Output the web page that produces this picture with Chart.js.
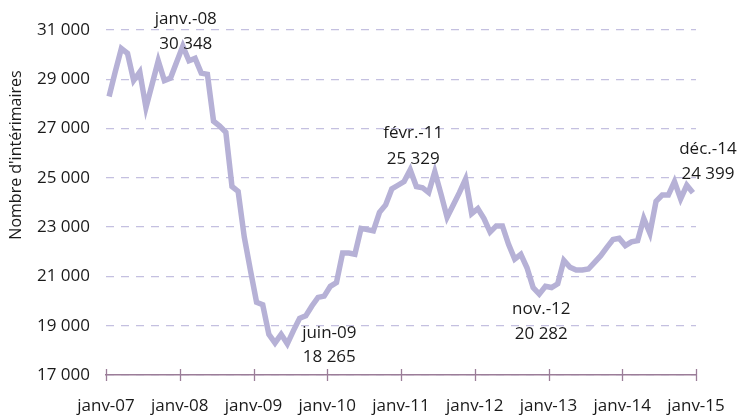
<!DOCTYPE html>
<html>
<head>
<meta charset="utf-8">
<script src="https://cdn.jsdelivr.net/npm/chart.js@4/dist/chart.umd.min.js"></script>
<style>
  body { margin: 0; background: #fff; }
  canvas { display: block; }
</style>
</head>
<body>
<canvas id="myChart" width="738" height="416"></canvas>
<script>
// tick labels on the x axis (one per year, first month)
var yearLabels = ['janv-07', 'janv-08', 'janv-09', 'janv-10', 'janv-11', 'janv-12', 'janv-13', 'janv-14', 'janv-15'];

// monthly values, janv-07 .. déc-14
var interimaires = [
  28300, 29300, 30250, 30050, 28950, 29300, 27850, 28800, 29750, 28950, 29050, 29700,
  30348, 29750, 29850, 29250, 29200, 27300, 27100, 26850, 24650, 24450, 22600, 21250,
  19950, 19850, 18650, 18300, 18650, 18265, 18800, 19300, 19400, 19800, 20150, 20200,
  20600, 20750, 21950, 21950, 21900, 22950, 22900, 22850, 23600, 23900, 24550, 24700,
  24850, 25329, 24650, 24600, 24400, 25250, 24350, 23400, 23900, 24400, 24950, 23550,
  23750, 23350, 22800, 23050, 23050, 22300, 21700, 21900, 21350, 20550, 20282, 20600,
  20550, 20700, 21650, 21370, 21260, 21260, 21300, 21570, 21840, 22180, 22500, 22550,
  22250, 22400, 22450, 23350, 22750, 24050, 24300, 24300, 24850, 24150, 24700, 24399
];

var yTicks = [17000, 19000, 21000, 23000, 25000, 27000, 29000, 31000];

// highlighted points: month index and label
var noteIndex = [12, 29, 49, 70, 95];
var noteMonth = ['janv.-08', 'juin-09', 'févr.-11', 'nov.-12', 'déc.-14'];

function fmt(v) {
  return String(v).replace(/\B(?=(\d{3})+(?!\d))/g, ' ');
}

var points = interimaires.map(function (v, i) { return { x: i + 0.5, y: v }; });

var FONT = '"Open Sans", "Noto Sans", sans-serif';
var TXT = '#1a1a1a';

var extras = {
  id: 'extras',
  beforeDatasetsDraw: function (chart) {
    var c = chart.ctx, xs = chart.scales.x, ys = chart.scales.y;
    var y0 = ys.getPixelForValue(17000);
    c.save();
    c.strokeStyle = '#9b7d98';
    c.lineWidth = 1.3;
    for (var k = 0; k < yearLabels.length; k++) {
      var px = Math.round(xs.getPixelForValue(k * 12)) + 0.5;
      c.beginPath();
      c.moveTo(px, y0 - 6);
      c.lineTo(px, y0 + 6);
      c.stroke();
    }
    c.restore();
  },
  afterDraw: function (chart) {
    var c = chart.ctx, xs = chart.scales.x, ys = chart.scales.y;
    c.save();
    c.fillStyle = TXT;
    c.font = '17px ' + FONT;
    c.textAlign = 'center';
    c.textBaseline = 'middle';
    // offsets of the two label lines from their point
    var offs = {
      12: [3, -27, -2],
      29: [42, -11, 13],
      49: [3, -37, -11],
      70: [2, 15, 40],
      95: [15, -44, -19]
    };
    for (var n = 0; n < noteIndex.length; n++) {
      var i = noteIndex[n];
      var px = xs.getPixelForValue(i + 0.5);
      var py = ys.getPixelForValue(interimaires[i]);
      var o = offs[i];
      c.fillText(noteMonth[n], px + o[0], py + o[1]);
      c.fillText(fmt(interimaires[i]), px + o[0], py + o[2]);
    }
    // y axis title
    c.font = '16px ' + FONT;
    c.translate(16, 155);
    c.rotate(-Math.PI / 2);
    c.fillText("Nombre d'intérimaires", 0, 0);
    c.restore();
  }
};

var ctx = document.getElementById('myChart').getContext('2d');
var chart = new Chart(ctx, {
  type: 'line',
  data: {
    datasets: [{
      label: "Nombre d'intérimaires",
      data: points,
      borderColor: '#b6b1d6',
      borderWidth: 5.5,
      pointRadius: 0,
      tension: 0,
      fill: false
    }]
  },
  options: {
    responsive: false,
    devicePixelRatio: 1,
    animation: false,
    layout: { padding: { top: 30, right: 42, bottom: 0, left: 0 } },
    plugins: { legend: { display: false }, tooltip: { enabled: false } },
    scales: {
      x: {
        type: 'linear',
        min: 0,
        max: 96,
        afterFit: function (s) { s.height = 41; s.paddingLeft = 0; s.paddingRight = 0; },
        afterBuildTicks: function (s) {
          s.ticks = yearLabels.map(function (l, k) { return { value: k * 12 }; });
        },
        ticks: {
          autoSkip: false,
          maxRotation: 0,
          padding: 21,
          color: TXT,
          font: { family: FONT, size: 17 },
          callback: function (v) { return yearLabels[Math.round(v / 12)]; }
        },
        grid: { display: false, drawTicks: false },
        border: { display: true, color: '#9b7d98', width: 1.5 }
      },
      y: {
        min: 17000,
        max: 31000,
        afterFit: function (s) { s.width = 106; },
        afterBuildTicks: function (s) {
          s.ticks = yTicks.map(function (v) { return { value: v }; });
        },
        ticks: {
          padding: 16,
          color: TXT,
          font: { family: FONT, size: 17 },
          callback: function (v) { return fmt(v); }
        },
        grid: { color: '#c4c0e0', lineWidth: 1.3, drawTicks: false },
        border: { display: false, dash: [8, 7] }
      }
    }
  },
  plugins: [extras]
});
</script>
</body>
</html>
